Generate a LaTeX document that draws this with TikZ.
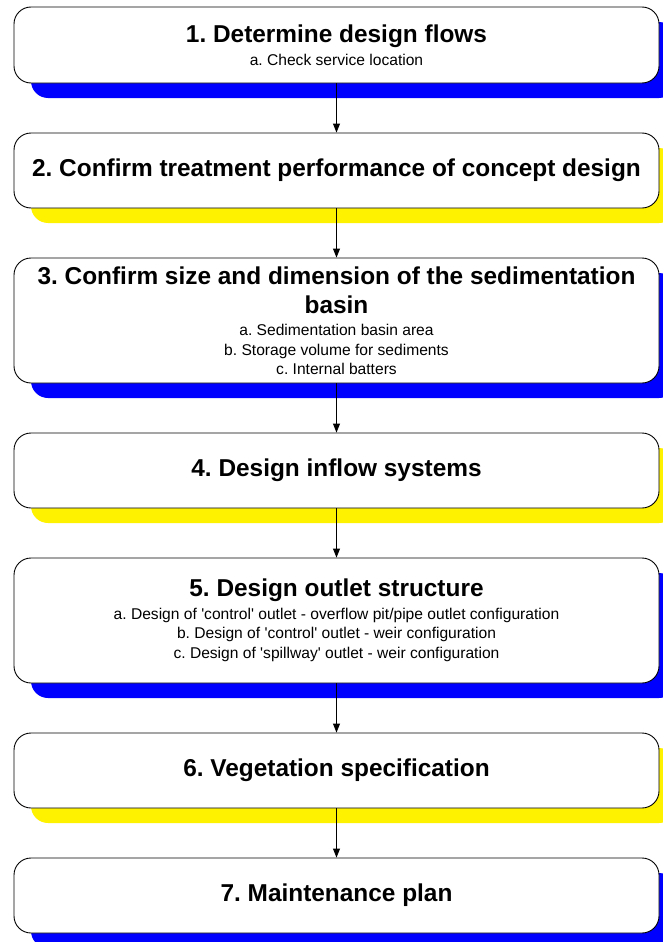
\documentclass[tikz,border=0pt]{standalone}
\usepackage{fontspec}
\setmainfont{Liberation Sans}
\usetikzlibrary{arrows.meta,shadows}

\tikzstyle{stepbox}=[draw,line width=0.9pt,rounded corners=17pt,fill=white,minimum width=645pt,inner sep=0pt,text width=636pt,align=center]
\tikzstyle{blueshadow}=[drop shadow={shadow xshift=17pt,shadow yshift=-15pt,fill=blue,draw=none,opacity=1}]
\tikzstyle{yellowshadow}=[drop shadow={shadow xshift=17pt,shadow yshift=-15pt,fill=yellow,draw=none,opacity=1}]
\tikzstyle{edge}=[draw,line width=0.9pt,-{Triangle[width=7pt,length=9pt]}]
\newcommand{\steptitle}[1]{{\centering\fontsize{24.4}{29}\selectfont\bfseries\spaceskip=0pt\xspaceskip=0pt #1\par}}
\newcommand{\stepitems}[1]{\vspace{3pt}{\centering\fontsize{15.6}{19.5}\selectfont\spaceskip=0pt\xspaceskip=0pt #1\par}}
\newcommand{\q}{\textquotesingle}
\frenchspacing

\begin{document}
\begin{tikzpicture}[x=1pt,y=-1pt]
    \useasboundingbox (0,0) rectangle (662,942);
    % The seven design steps
    \node[stepbox,blueshadow,minimum height=76pt] (s1) at (336.5,45)
        {\steptitle{1. Determine design flows}\stepitems{a. Check service location}};
    \node[stepbox,yellowshadow,minimum height=75pt] (s2) at (336.5,170.5)
        {\steptitle{2. Confirm treatment performance of concept design}};
    \node[stepbox,blueshadow,minimum height=125pt] (s3) at (336.5,320.5)
        {\steptitle{3. Confirm size and dimension of the sedimentation\\basin}%
         \stepitems{a. Sedimentation basin area\\b. Storage volume for sediments\\c. Internal batters}};
    \node[stepbox,yellowshadow,minimum height=75pt] (s4) at (336.5,470.5)
        {\steptitle{4. Design inflow systems}};
    \node[stepbox,blueshadow,minimum height=125pt] (s5) at (336.5,620.5)
        {\steptitle{5. Design outlet structure}%
         \stepitems{a. Design of \q control\q{} outlet - overflow pit/pipe outlet configuration\\
                    b. Design of \q control\q{} outlet - weir configuration\\
                    c. Design of \q spillway\q{} outlet - weir configuration}};
    \node[stepbox,yellowshadow,minimum height=75pt] (s6) at (336.5,770.5)
        {\steptitle{6. Vegetation specification}};
    \node[stepbox,blueshadow,minimum height=75pt] (s7) at (336.5,895.5)
        {\steptitle{7. Maintenance plan}};
    % Connect the steps
    \foreach \source/\dest in {s1/s2,s2/s3,s3/s4,s4/s5,s5/s6,s6/s7}
        \path[edge] (\source) -- (\dest);
\end{tikzpicture}
\end{document}
